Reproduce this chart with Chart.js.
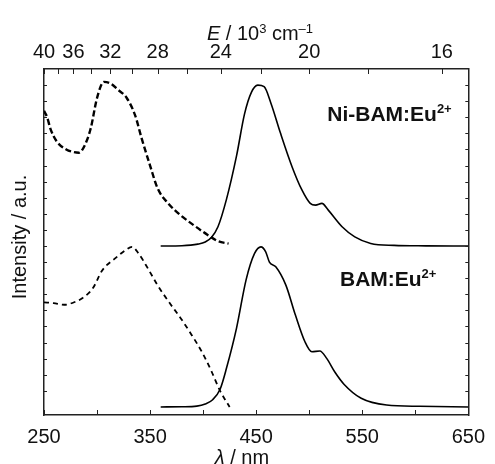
<!DOCTYPE html>
<html>
<head>
<meta charset="utf-8">
<script src="https://cdn.jsdelivr.net/npm/chart.js@4/dist/chart.umd.min.js"></script>
<style>
  html, body { margin: 0; padding: 0; background: #fff; }
</style>
</head>
<body>
<canvas id="chart" width="495" height="464"></canvas>
<script>
// Ni-BAM:Eu2+ excitation (dashed) and emission (solid), offset by 10
const niExcWl  = [250, 253, 256, 262, 271, 277, 283, 288, 294, 300, 306.5, 312.7, 320, 328, 336, 342, 350, 357, 367, 379, 391, 404, 414, 424];
const niExcInt = [18.4, 18.0, 17.3, 16.5, 16.0, 15.85, 15.8, 16.2, 17.3, 19.2, 20.2, 20.1, 19.7, 19.2, 18.1, 16.7, 15.0, 13.6, 12.65, 11.9, 11.3, 10.7, 10.3, 10.15];
const niEmWl   = [360, 380, 395, 402, 408, 414, 422, 431.5, 439, 445.5, 451.5, 457.5, 464, 473, 484, 493, 501, 506, 512, 518, 531, 543, 558, 580, 610, 650];
const niEmInt  = [10, 10.02, 10.12, 10.25, 10.55, 11.2, 12.9, 15.6, 18.2, 19.55, 20.0, 19.9, 18.86, 17.0, 14.9, 13.5, 12.65, 12.54, 12.65, 12.23, 11.2, 10.57, 10.16, 10.04, 10.01, 10];

// BAM:Eu2+ excitation (dashed) and emission (solid)
const bamExcWl  = [250, 259, 269, 280, 286, 296, 305, 317, 327, 333, 339, 348, 357, 368, 379, 388, 399, 408, 416, 425];
const bamExcInt = [6.5, 6.45, 6.35, 6.55, 6.75, 7.37, 8.5, 9.23, 9.75, 9.95, 9.55, 8.6, 7.57, 6.5, 5.5, 4.6, 3.4, 2.2, 1.0, 0.0];
const bamEmWl   = [360, 380, 394, 402, 409, 416, 422, 431.5, 440.5, 448.5, 454.5, 459, 462.5, 468.5, 478, 487, 496, 502.5, 510, 516.5, 524, 533, 549, 573, 604, 650];
const bamEmInt  = [0, 0.01, 0.05, 0.18, 0.45, 1.1, 2.4, 4.9, 7.9, 9.54, 9.95, 9.64, 9.0, 8.71, 7.57, 5.71, 4.05, 3.43, 3.48, 3.02, 2.19, 1.4, 0.54, 0.12, 0.04, 0];

// axis ticks
const wlTicks = [250, 300, 350, 400, 450, 500, 550, 600, 650];
const wlLabels = [250, 350, 450, 550, 650];
const energyTicks = [40, 38, 36, 34, 32, 30, 28, 26, 24, 22, 20, 18, 16];   // 10^3 cm-1
const energyLabels = [40, 36, 32, 28, 24, 20, 16];

const toPoints = (xs, ys) => xs.map((x, i) => ({ x: x, y: ys[i] }));

const FONT = "'Liberation Sans', Arial, sans-serif";
const ink = '#111';

function richText(ctx, parts, x, y, align) {
    let w = 0;
    parts.forEach(p => { ctx.font = p.font; w += ctx.measureText(p.t).width; });
    let cx = align === 'center' ? x - w / 2 : x;
    parts.forEach(p => {
        ctx.font = p.font;
        ctx.fillText(p.t, cx, y + (p.dy || 0));
        cx += ctx.measureText(p.t).width;
    });
}

const overlay = {
    id: 'overlay',
    afterDraw(chart) {
        const { ctx, chartArea: a, scales } = chart;
        ctx.save();
        ctx.strokeStyle = '#222';
        ctx.lineWidth = 1;
        ctx.beginPath();
        scales.x.ticks.forEach(t => {
            const px = Math.round(scales.x.getPixelForValue(t.value)) + 0.5;
            ctx.moveTo(px, a.bottom); ctx.lineTo(px, a.bottom - 5);
        });
        scales.x2.ticks.forEach(t => {
            const px = Math.round(scales.x2.getPixelForValue(t.value)) + 0.5;
            ctx.moveTo(px, a.top); ctx.lineTo(px, a.top + 5);
        });
        scales.y.ticks.forEach(t => {
            if (t.value <= -0.5 || t.value >= 21) return;
            const py = Math.round(scales.y.getPixelForValue(t.value)) + 0.5;
            ctx.moveTo(a.left, py); ctx.lineTo(a.left + 3, py);
            ctx.moveTo(a.right, py); ctx.lineTo(a.right - 3, py);
        });
        ctx.stroke();

        ctx.fillStyle = ink;
        ctx.textBaseline = 'alphabetic';
        ctx.textAlign = 'left';
        const big = '20px ' + FONT, sup = '13px ' + FONT;
        const bold = 'bold 21px ' + FONT, boldSup = 'bold 13px ' + FONT;

        // top axis title
        richText(ctx, [
            { t: 'E', font: 'italic ' + big },
            { t: ' / 10', font: big },
            { t: '3', font: sup, dy: -7 },
            { t: ' cm', font: big },
            { t: '\u20131', font: sup, dy: -7 }
        ], 260, 40, 'center');

        // bottom axis title
        richText(ctx, [
            { t: '\u03BB', font: 'italic ' + big },
            { t: ' / nm', font: big }
        ], 242, 464, 'center');

        // sample labels
        const lx1 = scales.x.getPixelForValue(517), ly1 = scales.y.getPixelForValue(18.2) + 7;
        richText(ctx, [{ t: 'Ni-BAM:Eu', font: bold }, { t: '2+', font: boldSup, dy: -8 }], lx1, ly1, 'left');
        const lx2 = scales.x.getPixelForValue(529), ly2 = scales.y.getPixelForValue(7.95) + 7;
        richText(ctx, [{ t: 'BAM:Eu', font: bold }, { t: '2+', font: boldSup, dy: -8 }], lx2, ly2, 'left');

        // y axis title
        ctx.translate(20, 237);
        ctx.rotate(-Math.PI / 2);
        ctx.font = big;
        ctx.textAlign = 'center';
        ctx.textBaseline = 'middle';
        ctx.fillText('Intensity / a.u.', 0, 0);
        ctx.restore();
    }
};

const lineStyle = { borderColor: '#000', pointRadius: 0, fill: false, cubicInterpolationMode: 'monotone' };

new Chart(document.getElementById('chart').getContext('2d'), {
    type: 'line',
    data: {
        datasets: [
            Object.assign({ label: 'Ni-BAM exc', data: toPoints(niExcWl, niExcInt), borderWidth: 2.4, borderDash: [6, 3] }, lineStyle),
            Object.assign({ label: 'Ni-BAM em', data: toPoints(niEmWl, niEmInt), borderWidth: 1.6 }, lineStyle),
            Object.assign({ label: 'BAM exc', data: toPoints(bamExcWl, bamExcInt), borderWidth: 1.8, borderDash: [5, 4] }, lineStyle),
            Object.assign({ label: 'BAM em', data: toPoints(bamEmWl, bamEmInt), borderWidth: 1.6 }, lineStyle)
        ]
    },
    options: {
        responsive: false,
        animation: false,
        layout: { padding: 0 },
        plugins: { legend: { display: false }, tooltip: { enabled: false } },
        scales: {
            x: {
                type: 'linear', position: 'bottom', min: 250, max: 650,
                afterBuildTicks: s => { s.ticks = wlTicks.map(v => ({ value: v })); },
                afterFit: s => { s.height = 49; },
                grid: { display: false, drawTicks: false },
                border: { display: true, color: '#222', width: 1.5 },
                ticks: {
                    autoSkip: false, maxRotation: 0, padding: 10, color: ink,
                    font: { family: FONT, size: 20 },
                    callback: v => wlLabels.includes(v) ? String(v) : ''
                }
            },
            x2: {
                type: 'linear', position: 'top', min: 250, max: 650,
                afterBuildTicks: s => { s.ticks = energyTicks.map(e => ({ value: 1e4 / e })); },
                afterFit: s => { s.height = 69; },
                grid: { display: false, drawTicks: false },
                border: { display: true, color: '#222', width: 1.5 },
                ticks: {
                    autoSkip: false, maxRotation: 0, padding: 5, color: ink,
                    font: { family: FONT, size: 20 },
                    callback: v => {
                        const e = Math.round(1e4 / v);
                        return energyLabels.includes(e) ? String(e) : '';
                    }
                }
            },
            y: {
                type: 'linear', position: 'left', min: -0.5, max: 21,
                ticks: { display: false, stepSize: 1 },
                afterFit: s => { s.width = 44; },
                grid: { display: false, drawTicks: false },
                border: { display: true, color: '#222', width: 1.5 }
            },
            y2: {
                type: 'linear', position: 'right', min: -0.5, max: 21,
                ticks: { display: false, stepSize: 1 },
                afterFit: s => { s.width = 19; },
                grid: { display: false, drawTicks: false },
                border: { display: true, color: '#222', width: 1.5 }
            }
        }
    },
    plugins: [overlay]
});
</script>
</body>
</html>
